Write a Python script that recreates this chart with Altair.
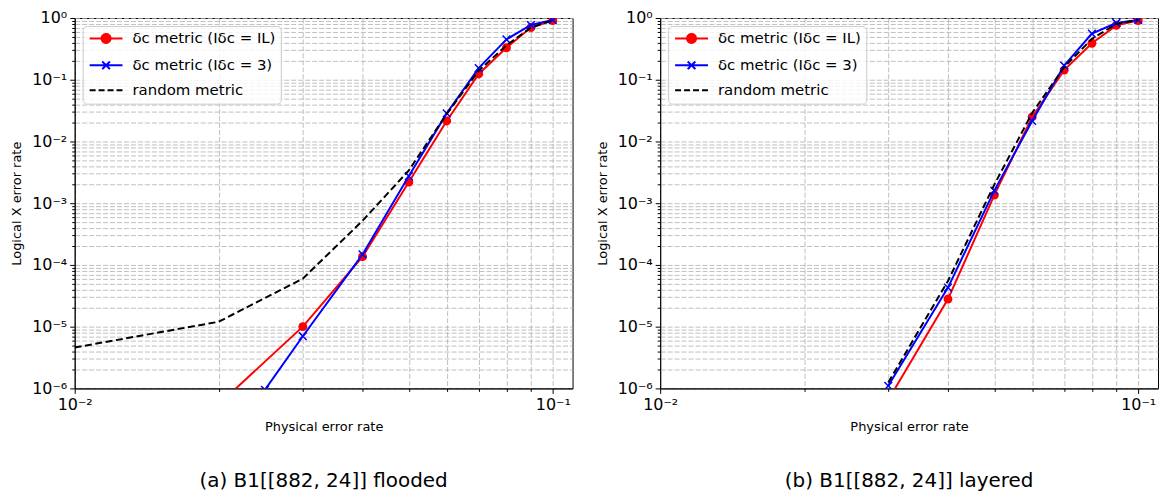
import altair as alt
import pandas as pd

# ---------------- data ----------------
series_names = ["δc metric (Iδc = IL)", "δc metric (Iδc = 3)", "random metric"]
series_colors = ["red", "blue", "black"]

# (a) flooded
flooded_p_il = [0.02, 0.03, 0.04, 0.05, 0.06, 0.07, 0.08, 0.09, 0.10]
flooded_ler_il = [5.5e-7, 1.0e-5, 1.36e-4, 2.2e-3, 2.15e-2, 0.124, 0.33, 0.70, 0.91]
flooded_p_3 = [0.025, 0.03, 0.04, 0.05, 0.06, 0.07, 0.08, 0.09, 0.10]
flooded_ler_3 = [9.5e-7, 7.0e-6, 1.48e-4, 2.75e-3, 2.85e-2, 0.154, 0.45, 0.77, 0.93]
flooded_p_rand = [0.01, 0.02, 0.03, 0.04, 0.05, 0.06, 0.07, 0.08, 0.09, 0.10]
flooded_ler_rand = [4.6e-6, 1.2e-5, 6.0e-5, 5.2e-4, 3.4e-3, 2.8e-2, 0.14, 0.36, 0.70, 0.92]

# (b) layered
layered_p_il = [0.03, 0.04, 0.05, 0.06, 0.07, 0.08, 0.09, 0.10]
layered_ler_il = [6.5e-7, 2.8e-5, 1.35e-3, 2.5e-2, 0.143, 0.39, 0.76, 0.91]
layered_p_3 = [0.03, 0.04, 0.05, 0.06, 0.07, 0.08, 0.09, 0.10]
layered_ler_3 = [1.1e-6, 4.3e-5, 1.6e-3, 2.15e-2, 0.17, 0.56, 0.83, 0.93]
layered_p_rand = [0.03, 0.04, 0.05, 0.06, 0.07, 0.08, 0.09, 0.10]
layered_ler_rand = [1.25e-6, 5.5e-5, 2.0e-3, 2.9e-2, 0.16, 0.46, 0.80, 0.93]

captions = ["(a) B1[[882, 24]] flooded", "(b) B1[[882, 24]] layered"]

# ticks
x_tick_values = [0.01, 0.02, 0.03, 0.04, 0.05, 0.06, 0.07, 0.08, 0.09, 0.1]
x_major_values = [0.01, 0.1]
x_major_labels = ["10⁻²", "10⁻¹"]
y_major_values = [1e-6, 1e-5, 1e-4, 1e-3, 1e-2, 1e-1, 1.0]
y_major_labels = ["10⁻⁶", "10⁻⁵", "10⁻⁴", "10⁻³", "10⁻²", "10⁻¹", "10⁰"]
y_tick_values = [m * d for d in y_major_values[:-1] for m in range(1, 10)] + [1.0]

x_domain = [0.01, 0.11]
y_domain = [1e-6, 1.0]

FONT = "DejaVu Sans"
X_PATH = "M-1,-1L1,1M-1,1L1,-1"
# legend symbol paths: line with marker (unit box scaled by symbol size)
LEG_RED = "M-1,0L5,0M1.18,0A0.82,0.82 0 1,0 2.82,0A0.82,0.82 0 1,0 1.18,0Z"
LEG_BLUE = "M-1,0L5,0M1.3,-0.7L2.7,0.7M1.3,0.7L2.7,-0.7"
LEG_RAND = "M-1,0L5,0"


def label_expr(values, labels):
    parts = [f"abs(datum.value / {v!r} - 1) < 1e-6 ? '{l}'" for v, l in zip(values, labels)]
    return " : ".join(parts) + " : ''"


def major_test(values):
    return " || ".join(f"abs(datum.value / {v!r} - 1) < 1e-6" for v in values)


axis_common = dict(
    grid=True, gridColor="#b0b0b0", gridDash=[5, 2], gridWidth=0.8, gridOpacity=1,
    domainColor="black", domainWidth=1, tickColor="black", tickWidth=1,
    labelColor="black", labelFont=FONT, labelFontSize=16, labelOverlap=False, labelFlush=False,
    titleFont=FONT, titleFontSize=13, titleFontWeight="normal", titleColor="black",
)

x_axis = alt.Axis(
    values=x_tick_values,
    labelExpr=label_expr(x_major_values, x_major_labels),
    tickSize={"condition": {"test": major_test(x_major_values), "value": 5}, "value": 3},
    labelPadding=3, titlePadding=8, **axis_common,
)
y_axis = alt.Axis(
    values=y_tick_values,
    labelExpr=label_expr(y_major_values, y_major_labels),
    tickSize={"condition": {"test": major_test(y_major_values), "value": 5}, "value": 3},
    labelPadding=3, titlePadding=8, **axis_common,
)


def make_df(p_il, l_il, p_3, l_3, p_r, l_r):
    rows = []
    for p, v in zip(p_il, l_il):
        rows.append({"p": p, "ler": v, "series": series_names[0]})
    for p, v in zip(p_3, l_3):
        rows.append({"p": p, "ler": v, "series": series_names[1]})
    for p, v in zip(p_r, l_r):
        rows.append({"p": p, "ler": v, "series": series_names[2]})
    return pd.DataFrame(rows)


def panel(df, caption):
    base = alt.Chart(df).encode(
        x=alt.X("p:Q", scale=alt.Scale(type="log", domain=x_domain), axis=x_axis,
                title="Physical error rate"),
        y=alt.Y("ler:Q", scale=alt.Scale(type="log", domain=y_domain), axis=y_axis,
                title="Logical X error rate"),
    )
    red = base.transform_filter(alt.datum.series == series_names[0])
    blue = base.transform_filter(alt.datum.series == series_names[1])
    rand = base.transform_filter(alt.datum.series == series_names[2])

    red_line = red.mark_line(color="red", strokeWidth=2, clip=True)
    red_pts = red.mark_point(shape="circle", filled=True, color="red", size=80, opacity=1, clip=True)
    blue_line = blue.mark_line(color="blue", strokeWidth=2, clip=True)
    blue_pts = blue.mark_point(shape=X_PATH, filled=False, color="blue", size=60,
                               strokeWidth=1.5, opacity=1, clip=True)
    rand_line = rand.mark_line(color="black", strokeWidth=2, strokeDash=[7, 3.5], clip=True)

    legend_layer = base.transform_filter("false").mark_point(
        filled=True, opacity=1, strokeWidth=2, size=121
    ).encode(
        color=alt.Color("series:N", scale=alt.Scale(domain=series_names, range=series_colors),
                        legend=alt.Legend(title=None)),
        stroke=alt.Stroke("series:N", scale=alt.Scale(domain=series_names, range=series_colors),
                          legend=alt.Legend(title=None)),
        shape=alt.Shape("series:N", scale=alt.Scale(domain=series_names,
                                                    range=[LEG_RED, LEG_BLUE, LEG_RAND]),
                        legend=alt.Legend(title=None)),
        strokeDash=alt.StrokeDash("series:N", scale=alt.Scale(domain=series_names,
                                                              range=[[1, 0], [1, 0], [6, 3]]),
                                  legend=alt.Legend(title=None)),
    )

    return alt.layer(red_line, red_pts, blue_line, blue_pts, rand_line, legend_layer).properties(
        width=500, height=372,
        title=alt.Title(caption, orient="bottom", anchor="middle", fontSize=20, font=FONT,
                        fontWeight="normal", color="black", offset=38),
    )


df_a = make_df(flooded_p_il, flooded_ler_il, flooded_p_3, flooded_ler_3, flooded_p_rand, flooded_ler_rand)
df_b = make_df(layered_p_il, layered_ler_il, layered_p_3, layered_ler_3, layered_p_rand, layered_ler_rand)

chart = alt.hconcat(panel(df_a, captions[0]), panel(df_b, captions[1]), spacing=22).resolve_scale(
    color="independent", stroke="independent", shape="independent", strokeDash="independent"
).configure_view(
    stroke="black", strokeWidth=1
).configure_legend(
    orient="top-left", offset=8, fillColor="rgba(255,255,255,0.8)", strokeColor="#cccccc",
    cornerRadius=4, padding=5, labelFont=FONT, labelFontSize=15, labelColor="black",
    symbolStrokeWidth=2, symbolSize=121, labelOffset=30, rowPadding=9, symbolOpacity=1,
).properties(
    padding={"left": 2, "top": 0, "right": 2, "bottom": 0},
    background="white",
)

chart.save("out.html", embed_options={"renderer": "svg", "actions": False})
